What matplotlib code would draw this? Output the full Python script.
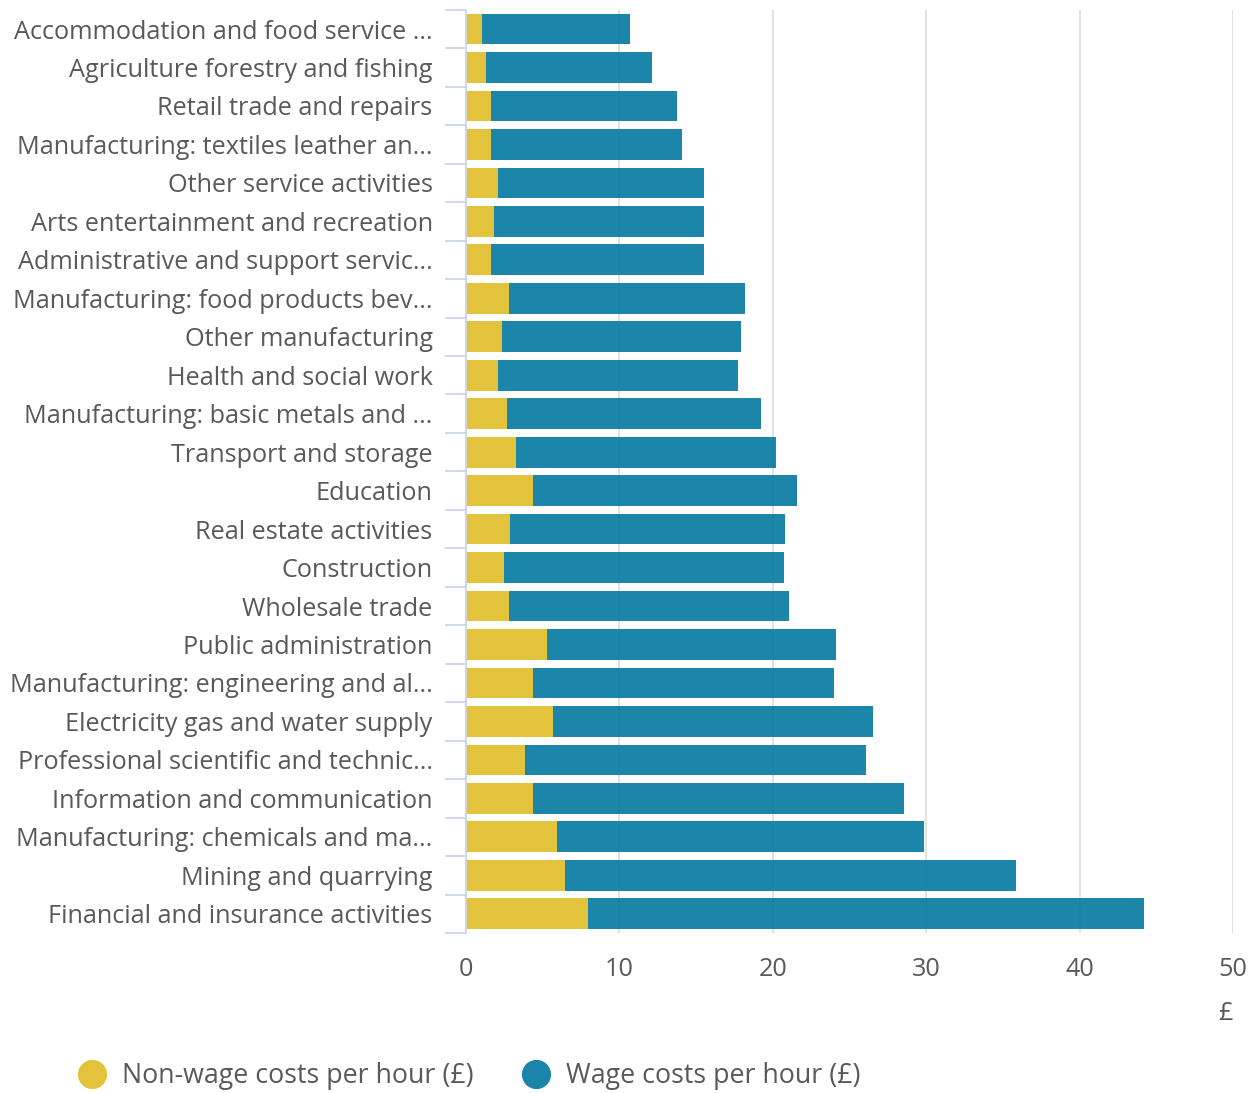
import matplotlib.pyplot as plt
from matplotlib.lines import Line2D
import numpy as np

plt.rcParams['font.family'] = ['Open Sans', 'DejaVu Sans']

industries = [
    "Accommodation and food service ...",
    "Agriculture forestry and fishing",
    "Retail trade and repairs",
    "Manufacturing: textiles leather an...",
    "Other service activities",
    "Arts entertainment and recreation",
    "Administrative and support servic...",
    "Manufacturing: food products bev...",
    "Other manufacturing",
    "Health and social work",
    "Manufacturing: basic metals and ...",
    "Transport and storage",
    "Education",
    "Real estate activities",
    "Construction",
    "Wholesale trade",
    "Public administration",
    "Manufacturing: engineering and al...",
    "Electricity gas and water supply",
    "Professional scientific and technic...",
    "Information and communication",
    "Manufacturing: chemicals and ma...",
    "Mining and quarrying",
    "Financial and insurance activities",
]

non_wage = [1.04, 1.3, 1.6, 1.6, 2.1, 1.8, 1.6, 2.8, 2.35, 2.1, 2.7, 3.25,
            4.4, 2.9, 2.5, 2.8, 5.3, 4.4, 5.7, 3.85, 4.4, 5.9, 6.45, 7.95]
total = [10.7, 12.1, 13.75, 14.1, 15.5, 15.5, 15.5, 18.2, 17.9, 17.7, 19.2, 20.2,
         21.6, 20.8, 20.7, 21.05, 24.1, 24.0, 26.5, 26.1, 28.55, 29.85, 35.85, 44.2]
wage = [t - n for t, n in zip(total, non_wage)]

yellow = "#e3c33b"
blue = "#1a84ab"
blue_bar = "#0f7ea6"   # darker so the slightly see-through bar comes out as blue
text_col = "#595959"
axis_col = "#ccd6eb"

fig = plt.figure(figsize=(12.57, 10.93), dpi=100)
ax = fig.add_axes([0.3707, 0.1464, 0.6104, 0.8446])

y = np.arange(len(industries))
ax.barh(y, non_wage, height=0.8, color=yellow, zorder=2)
ax.barh(y, wage, left=non_wage, height=0.8, color=blue_bar, alpha=0.95, zorder=2)

ax.set_xlim(0, 50)
ax.set_ylim(len(industries) - 0.5, -0.5)
ax.set_xticks([0, 10, 20, 30, 40, 50])
ax.grid(axis="x", color="#c8c8c8", linewidth=1.3, zorder=1, alpha=0.6)
ax.set_axisbelow(True)

ax.set_yticks(y)
ax.set_yticklabels(industries, fontsize=18.2, color=text_col)
ax.set_yticks(np.arange(-0.5, len(industries)), minor=True)
ax.tick_params(axis="y", which="major", length=0, pad=24)
ax.tick_params(axis="y", which="minor", length=15, width=1.3, color=axis_col)
ax.tick_params(axis="x", length=0, labelsize=18.2, labelcolor=text_col, pad=17)

for s in ["top", "right", "bottom"]:
    ax.spines[s].set_visible(False)
ax.spines["left"].set_color(axis_col)
ax.spines["left"].set_linewidth(1.3)

fig.text(1225 / 1257, 1 - 1013 / 1093, "£", fontsize=18.2, color=text_col,
         ha="center", va="center")

handles = [
    Line2D([], [], marker="o", linestyle="none", markersize=20,
           markerfacecolor=yellow, markeredgecolor=yellow),
    Line2D([], [], marker="o", linestyle="none", markersize=20,
           markerfacecolor=blue, markeredgecolor=blue),
]
fig.legend(handles, ["Non-wage costs per hour (£)", "Wage costs per hour (£)"],
           loc="center left", bbox_to_anchor=(0.0435, 1 - 1076 / 1093),
           ncol=2, frameon=False, fontsize=19.3, labelcolor=text_col,
           handletextpad=0.6, columnspacing=1.85, handlelength=1.0)

fig.savefig("out.png", dpi=100)
